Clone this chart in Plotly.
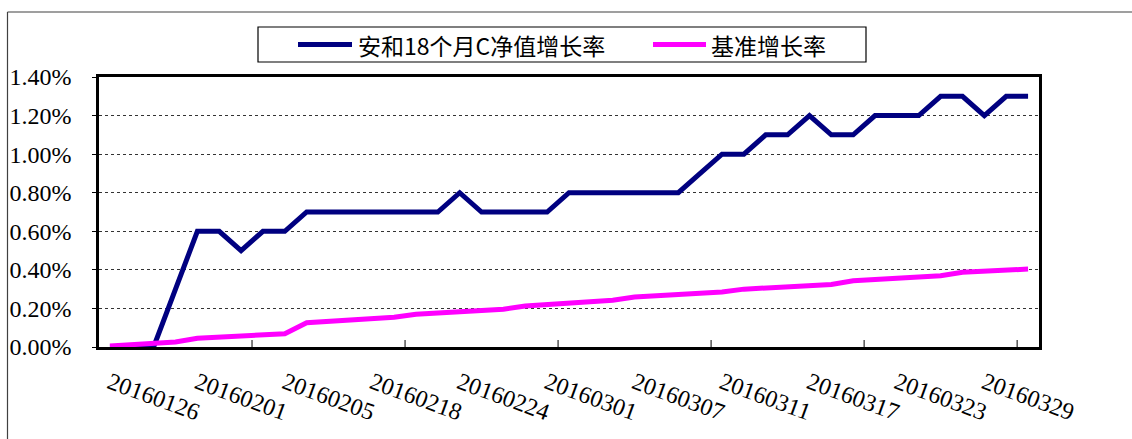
import plotly.graph_objects as go

dates = ["20160126", "20160127", "20160128", "20160129", "20160201", "20160202", "20160203",
         "20160204", "20160205", "20160215", "20160216", "20160217", "20160218", "20160219",
         "20160222", "20160223", "20160224", "20160225", "20160226", "20160229", "20160301",
         "20160302", "20160303", "20160304", "20160307", "20160308", "20160309", "20160310",
         "20160311", "20160314", "20160315", "20160316", "20160317", "20160318", "20160321",
         "20160322", "20160323", "20160324", "20160325", "20160328", "20160329", "20160330",
         "20160331"]

fund_growth = [0.0, 0.0, 0.0, 0.3, 0.6, 0.6, 0.5, 0.6, 0.6, 0.7, 0.7, 0.7, 0.7, 0.7, 0.7,
               0.7, 0.8, 0.7, 0.7, 0.7, 0.7, 0.8, 0.8, 0.8, 0.8, 0.8, 0.8, 0.9, 1.0, 1.0,
               1.1, 1.1, 1.2, 1.1, 1.1, 1.2, 1.2, 1.2, 1.3, 1.3, 1.2, 1.3, 1.3]

bench_growth = [0.005, 0.012, 0.017, 0.026, 0.045, 0.052, 0.057, 0.062, 0.069, 0.126, 0.133,
                0.139, 0.145, 0.154, 0.170, 0.177, 0.184, 0.190, 0.196, 0.213, 0.220, 0.227,
                0.235, 0.243, 0.259, 0.266, 0.271, 0.278, 0.285, 0.300, 0.305, 0.312, 0.317,
                0.324, 0.343, 0.350, 0.357, 0.362, 0.369, 0.388, 0.393, 0.398, 0.404]

tick_labels = dates[0::4]
y_ticks = [0.0, 0.2, 0.4, 0.6, 0.8, 1.0, 1.2, 1.4]
series_names = ["安和18个月C净值增长率", "基准增长率"]
series_colors = ["#000080", "#FF00FF"]

W, H = 1132, 439
L, R, T, B = 99, 1039, 77, 347
PW, PH = R - L, B - T


def px(x):
    return (x - L) / PW


def py(y):
    return (B - y) / PH


fig = go.Figure()
fig.add_trace(go.Scatter(x=dates, y=fund_growth, mode="lines", name=series_names[0],
                         line=dict(color=series_colors[0], width=5), showlegend=False))
fig.add_trace(go.Scatter(x=dates, y=bench_growth, mode="lines", name=series_names[1],
                         line=dict(color=series_colors[1], width=5), showlegend=False))

shapes = []
# outer chart border (top and left visible)
shapes.append(dict(type="line", xref="paper", yref="paper", x0=px(7.5), x1=px(1140),
                   y0=py(12), y1=py(12), line=dict(color="#404040", width=1.2)))
shapes.append(dict(type="line", xref="paper", yref="paper", x0=px(7.5), x1=px(7.5),
                   y0=py(12), y1=py(445), line=dict(color="#404040", width=1.2)))
# x tick marks at category boundaries every 7 categories
for b in range(7, len(dates), 7):
    shapes.append(dict(type="line", xref="x", yref="paper", x0=b - 0.5, x1=b - 0.5,
                       y0=0, y1=7 / PH, line=dict(color="black", width=1)))
# legend box
shapes.append(dict(type="rect", xref="paper", yref="paper", x0=px(258), x1=px(866),
                   y0=py(62), y1=py(27), line=dict(color="black", width=1.2),
                   fillcolor="white"))
legend_items = [(298, 352, 356), (653, 706, 709)]
annotations = []
for (x0, x1, tx), name, col in zip(legend_items, series_names, series_colors):
    shapes.append(dict(type="line", xref="paper", yref="paper", x0=px(x0), x1=px(x1),
                       y0=py(44.5), y1=py(44.5), line=dict(color=col, width=5)))
    annotations.append(dict(xref="paper", yref="paper", x=px(tx), y=py(45), text=name,
                            showarrow=False, xanchor="left", yanchor="middle",
                            font=dict(family="Noto Sans CJK SC", size=23, color="black")))

fig.update_layout(
    width=W, height=H,
    margin=dict(l=L, r=W - R, t=T, b=H - B, pad=0),
    paper_bgcolor="white", plot_bgcolor="white",
    shapes=shapes, annotations=annotations,
    xaxis=dict(type="category", categoryorder="array", categoryarray=dates,
               range=[-0.5, len(dates) - 0.5], automargin=False,
               tickmode="array", tickvals=tick_labels, ticktext=tick_labels,
               tickangle=20, ticks="", showgrid=False,
               showline=True, linecolor="black", linewidth=2.5, mirror=True,
               tickfont=dict(family="Liberation Serif", size=24, color="black"),
               ticklabelstandoff=10),
    yaxis=dict(range=[0, 1.4], tickmode="array", tickvals=y_ticks, automargin=False,
               ticktext=[f"{v:.2f}%" for v in y_ticks],
               ticks="outside", ticklen=4, tickcolor="black",
               showgrid=True, gridcolor="#333333", gridwidth=1, griddash="dot",
               zeroline=False,
               showline=True, linecolor="black", linewidth=2.5, mirror=True,
               tickfont=dict(family="Liberation Serif", size=24, color="black"),
               ticklabelstandoff=16),
)

fig.write_html("out.html", config={"displayModeBar": False},
               post_script="document.body.style.margin='0';document.body.style.overflow='hidden';")
